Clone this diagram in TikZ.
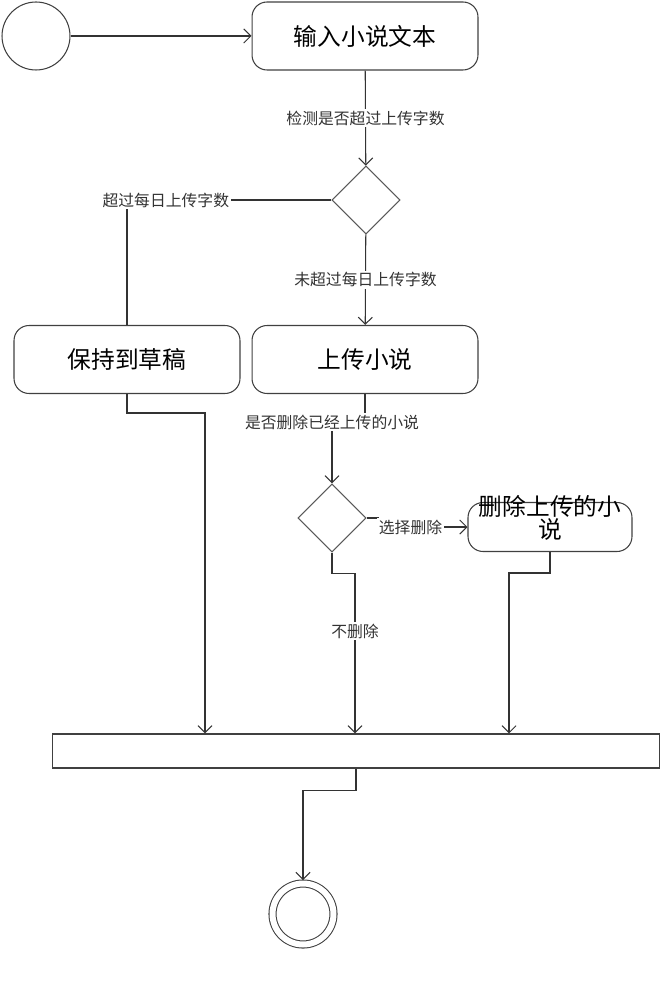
\documentclass[tikz,border=0pt]{standalone}
\usepackage{fontspec}
\setmainfont{Noto Sans CJK SC}
\usetikzlibrary{shapes.geometric,arrows.meta}

\tikzset{
  act/.style={draw=black!75, rounded corners=0.3cm, minimum width=4.52cm, minimum height=1.36cm,
    inner sep=0pt, font=\fontsize{13.5}{15}\selectfont},
  choice/.style={draw=black!65, diamond, minimum width=1.36cm, minimum height=1.36cm, inner sep=0pt},
  lbl/.style={fill=white, inner sep=1pt, font=\fontsize{9}{11}\selectfont},
}

\begin{document}
\begin{tikzpicture}[x=0.02cm, y=-0.02cm, >={Straight Barb[length=4pt,width=8pt]}, line width=0.6pt]
  \useasboundingbox (0,0) rectangle (664,996);

  \node[draw=black!75, circle, minimum size=1.36cm, inner sep=0pt] (start) at (36,36) {};
  \node[act] (input) at (365,36) {输入小说文本};
  \node[choice] (chk) at (366,200) {};
  \node[act] (keep) at (127,359.5) {保持到草稿};
  \node[act] (upload) at (365,359.5) {上传小说};
  \node[choice] (ask) at (332,518) {};
  \node[act, minimum width=3.28cm, minimum height=0.98cm] (del) at (550,527)
    {\smash{\begin{tabular}{@{}c@{}}删除上传的小\\[-3pt]说\end{tabular}}};
  \node[draw=black!75, minimum width=12.16cm, minimum height=0.68cm, inner sep=0pt] (bar) at (356,751) {};
  \node[draw=black!75, circle, double, double distance=0.12cm, minimum size=1.22cm,
    inner sep=0pt, outer sep=0.07cm] (stop) at (303,914) {};

  \draw[->, black!80] (start) -- (input);
  \draw[->, black!80] (input) -- node[lbl] {检测是否超过上传字数} (chk);
  \draw[black!80] (chk.west) -- node[lbl, pos=0.81] {超过每日上传字数} (keep.north |- chk.west) -- (keep.north);
  \draw[->, black!80] (chk) -- node[lbl] {未超过每日上传字数} (upload);
  \draw[->, black!80] (keep.south) -- ++(0,19) -| (205,0 |- bar.north);
  \draw[->, black!80] (upload.south) -- ++(0,28) -| node[lbl, pos=0.5] {是否删除已经上传的小说} (ask.north);
  \draw[->, black!80] (ask.east) -- ++(12,0) |- node[lbl, pos=0.68] {选择删除} (del.west);
  \draw[->, black!80] (ask.south) -- ++(0,21) -| node[lbl, pos=0.68] {不删除} (355,0 |- bar.north);
  \draw[->, black!80] (del.south) -- ++(0,21) -| (509,0 |- bar.north);
  \draw[->, black!80] (bar.south) -- ++(0,22) -| (stop);
\end{tikzpicture}
\end{document}
